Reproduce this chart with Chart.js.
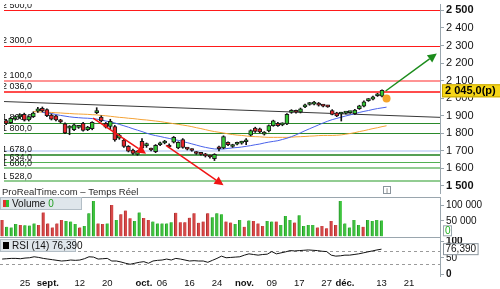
<!DOCTYPE html>
<html><head><meta charset="utf-8">
<script src="https://cdn.jsdelivr.net/npm/chart.js@4.4.0/dist/chart.umd.min.js"></script>
<style>
html,body{margin:0;padding:0;background:#fff;width:500px;height:289px;overflow:hidden}
canvas{position:absolute;left:0;display:block}
</style></head><body>
<canvas id="cp" width="500" height="197" style="top:0"></canvas>
<canvas id="cv" width="500" height="40" style="top:197px"></canvas>
<canvas id="cr" width="500" height="52" style="top:237px"></canvas>
<script>
// ---------- DATA (index 0 = 18 Aug 2017, one step per trading day) ----------
const xTickIndex = [5,10,17,23,31,35,41,47,53,59,65,71,75,83,89];
const xTickText  = ['25','sept.','12','20','oct.','06','16','24','nov.','09','17','27','déc.','13','21'];

const open  = [1872,1860,1882,1893,1908,1876,1895,1926,1942,1935, 1904,1899,1875,1854,1830,1821,1834,1857,1821,1826,
               1918,1892,1857,1839,1839,1772,1762,1726,1704,1680, 1755,1730,1712,1695,1735,1745,1733,1750,1717,1765,
               1715,1708,1692,1684,1680,1672,1655,1722,1717,1748, 1725,1738,1744,1752,1790,1830,1825,1795,1813,1844,
               1857,1848,1854,1919,1926,1920,1951,1964,1966,1972, 1958,1956,1930,1917,1910,1915,1918,1912,1940,1955,
               1986,1994,2014,2012];
const high  = [1880,1890,1900,1912,1915,1900,1922,1948,1950,1940, 1910,1903,1880,1860,1844,1854,1845,1862,1840,1866,
               1946,1900,1862,1880,1845,1795,1768,1730,1710,1702, 1770,1745,1716,1736,1750,1760,1740,1782,1752,1770,
               1718,1712,1696,1690,1686,1676,1684,1728,1786,1752, 1738,1750,1755,1770,1820,1835,1830,1810,1848,1875,
               1862,1860,1912,1935,1932,1944,1966,1976,1982,1976, 1964,1960,1935,1920,1920,1922,1926,1936,1960,1985,
               1998,2012,2028,2048];
const low   = [1850,1855,1875,1885,1870,1870,1890,1919,1922,1895, 1876,1870,1860,1798,1792,1815,1828,1812,1815,1820,
               1912,1865,1830,1825,1755,1766,1720,1694,1680,1675, 1710,1720,1700,1690,1730,1740,1718,1745,1712,1715,
               1705,1698,1680,1676,1665,1658,1645,1700,1712,1730, 1720,1734,1738,1735,1785,1805,1803,1790,1808,1840,
               1840,1843,1850,1914,1915,1916,1946,1960,1962,1955, 1950,1948,1905,1895,1870,1910,1914,1908,1936,1950,
               1982,1990,2010,2008];
const close = [1856,1885,1895,1905,1876,1895,1915,1940,1928,1900, 1881,1877,1865,1803,1836,1849,1838,1817,1835,1863,
               1928,1870,1835,1868,1762,1790,1726,1699,1686,1697, 1715,1735,1705,1732,1745,1755,1722,1777,1748,1720,
               1710,1702,1685,1680,1672,1665,1680,1712,1782,1735, 1732,1744,1750,1756,1815,1811,1808,1805,1844,1871,
               1844,1852,1908,1930,1920,1940,1963,1972,1978,1960, 1955,1951,1908,1899,1914,1918,1922,1932,1957,1980,
               1994,2008,2020,2045];

const volume = [53,31,29,40,37,36,35,42,37,78, 42,29,42,53,50,48,40,29,34,75, 115,42,40,42,102,53,72,84,59,50,
                78,60,53,48,42,42,42,46,77,46, 46,61,75,44,48,75,62,75,72,48, 45,40,53,31,52,50,42,34,50,48,
                48,37,66,53,45,69,34,37,37,29, 34,26,50,37,115,42,29,53,37,31, 53,50,53,52].map(v => v * 1000);
const volumeUp = [0,1,1,1,0,1,1,1,0,0, 0,0,0,0,1,1,1,0,1,1, 1,0,0,1,0,1,0,0,0,1, 1,0,0,1,1,1,1,1,0,0,
                  0,0,0,0,0,0,1,1,1,0, 0,1,1,0,1,0,0,0,1,1, 0,1,1,1,0,1,1,1,1,0, 0,0,0,0,1,1,1,1,1,0, 1,1,1,1];

const rsi = [46,47,48,48,47,49,50,53,51,48, 46,44,42,40,41,43,42,43,47,53, 52,46,47,48,40,40,37,33,30,33,
             36,38,33,40,42,43,46,43,48,46, 43,40,41,40,40,36,42,48,55,50, 51,52,53,58,62,60,58,60,61,69,
             62,65,68,72,71,72,73,74,73,72, 70,69,58,55,56,58,58,60,62,65, 68,71,74,76.39];

const maFastStart = 8;
const maFast = [1919,1916,1913,1907,1902,1898,1894,1891,1889,1887,1886,1884,1881,1876,1870,1865,1859,1851,1843,1835,
                1826,1818,1810,1801,1793,1787,1782,1776,1771,1765,1760,1753,1747,1740,1733,1726,1720,1715,1711,1710,
                1711,1714,1717,1719,1722,1726,1730,1735,1739,1745,1750,1754,1758,1765,1772,1781,1791,1803,1815,1826,
                1837,1848,1859,1869,1878,1885,1892,1899,1905,1912,1919,1925,1930,1936,1941,1945,1949];
const maSlowStart = 6;
const maSlow = [1924,1922,1921,1920,1919,1917,1916,1914,1913,1911,1910,1909,1908,1906,1905,1902,1900,1897,1894,1891,
                1889,1886,1884,1881,1878,1876,1873,1870,1867,1863,1859,1855,1851,1847,1843,1838,1832,1827,1821,1815,
                1810,1806,1802,1797,1793,1790,1788,1785,1782,1781,1780,1778,1777,1777,1777,1777,1777,1778,1780,1781,
                1782,1784,1785,1787,1788,1788,1788,1789,1791,1795,1799,1804,1810,1815,1821,1827,1832,1838,1843];

const trendLine = [[-0.47,1981],[95.8,1891]];
const markerPoint = [84, 1999];
const levelValues = [2500,2300,2100,2036,1860,1800,1700,1678,1634,1600,1528];
const levelLabels = ['2 500,0','2 300,0','2 100,0','2 036,0','1 860,0','1 800,0','','1 678,0','1 634,0','1 600,0','1 528,0'];
const arrowsRed = [[[19.2,1886],[30.9,1684]], [[35.3,1732],[48.0,1504]]];
const arrowGreen = [[83.8,2041],[95.1,2254]];

const priceTicks = [1500,1600,1700,1800,1900,2000,2100,2200,2300,2400,2500];
const volumeTicks = [50000,100000];
const rsiTicks = [0,50,100];
const rsiLevels = [70,30];
const sourceText = 'ProRealTime.com – Temps Réel';

// ---------- STYLE ----------
const FONT = "'Liberation Sans', Arial, sans-serif";
const AXIS_C = '#9aa6ae';
const levelStyle = [
  {c:'#ff1a1a',w:1},{c:'#ff1a1a',w:1},{c:'#ff9494',w:2},{c:'#ff1010',w:1.5},
  {c:'#2a8a2a',w:1},{c:'#2a8a2a',w:1},{c:'#c4d2f6',w:1.5},{c:'#1c7f1c',w:1.5},
  {c:'#52b052',w:1},{c:'#92cc92',w:2},{c:'#92cc92',w:2}];
const XMIN = -0.47, XMAX = 95.8;
const idx = close.map((_, i) => i);
const fmtK = v => String(v).replace(/\B(?=(\d{3})+(?!\d))/g, ' ');

function xAxis(show){
  const ax = {type:'linear', min:XMIN, max:XMAX, display:show, offset:false};
  if (show) Object.assign(ax, {
    grid:{display:false, drawTicks:false, tickLength:0}, border:{display:false},
    afterBuildTicks: s => { s.ticks = xTickIndex.map(v => ({value:v})); },
    afterFit: s => { s.height = 13; s.paddingLeft = 0; s.paddingRight = 0; },
    ticks:{autoSkip:false, maxRotation:0, padding:2, color:'#111',
      callback: v => xTickText[xTickIndex.indexOf(v)],
      font: c => ({family:FONT, size:9.5, weight: (c.tick && /\.$/.test(xTickText[xTickIndex.indexOf(c.tick.value)] || '')) ? 'bold' : 'normal'})}
  });
  return ax;
}
function yAxis(min, max, ticks, size, boldSet, cb){
  return {position:'right', min, max,
    afterBuildTicks: s => { s.ticks = ticks.map(v => ({value:v})); },
    afterFit: s => { s.width = 60; s.paddingTop = 0; s.paddingBottom = 0; },
    grid:{display:true, drawOnChartArea:false, drawTicks:true, tickLength:4, color:AXIS_C},
    border:{display:true, color:AXIS_C},
    ticks:{autoSkip:false, padding:2, color:'#111', callback: cb,
      font: c => ({family:FONT, size, weight: (c.tick && boldSet.includes(c.tick.value)) ? 'bold' : 'normal'})}
  };
}
const baseOpts = {responsive:false, animation:false, devicePixelRatio:1, events:[],
  layout:{padding:0}, plugins:{legend:{display:false}, tooltip:{enabled:false}}};

function arrow(ctx, x1, y1, x2, y2, color, w, head){
  const a = Math.atan2(y2 - y1, x2 - x1);
  const bx = x2 - head * Math.cos(a), by = y2 - head * Math.sin(a);
  ctx.strokeStyle = color; ctx.fillStyle = color; ctx.lineWidth = w;
  ctx.beginPath(); ctx.moveTo(x1, y1); ctx.lineTo(bx, by); ctx.stroke();
  const hw = head * 0.5;
  ctx.beginPath(); ctx.moveTo(x2, y2);
  ctx.lineTo(bx + hw * Math.sin(a), by - hw * Math.cos(a));
  ctx.lineTo(bx - hw * Math.sin(a), by + hw * Math.cos(a));
  ctx.closePath(); ctx.fill();
}

// ---------- PRICE PANEL ----------
const pricePlugin = {
  id:'pricePlugin',
  beforeDatasetsDraw(chart){
    const {ctx, chartArea:a, scales:{y}} = chart;
    ctx.save();
    ctx.beginPath(); ctx.rect(a.left, a.top, a.right - a.left, a.bottom - a.top); ctx.clip();
    ctx.fillStyle = '#a9b4bb'; ctx.fillRect(0, 0, 275, 1.5);
    levelValues.forEach((v, k) => {
      const st = levelStyle[k];
      let py = Math.round(y.getPixelForValue(v)); if (st.w % 2 === 1) py += 0.5;
      ctx.strokeStyle = st.c; ctx.lineWidth = st.w;
      ctx.beginPath(); ctx.moveTo(a.left, py); ctx.lineTo(a.right, py); ctx.stroke();
    });
    ctx.font = '9px ' + FONT; ctx.fillStyle = '#111'; ctx.textBaseline = 'alphabetic';
    levelValues.forEach((v, k) => { if (levelLabels[k]) ctx.fillText(levelLabels[k], 2, y.getPixelForValue(v) - 2.5); });
    ctx.restore();
  },
  afterDatasetsDraw(chart){
    const {ctx, chartArea:a, scales:{x, y}} = chart;
    ctx.save();
    ctx.beginPath(); ctx.rect(a.left, a.top, a.right - a.left, a.bottom - a.top); ctx.clip();
    arrowsRed.forEach(([p, q]) => arrow(ctx, x.getPixelForValue(p[0]), y.getPixelForValue(p[1]),
      x.getPixelForValue(q[0]), y.getPixelForValue(q[1]), '#f01414', 1.5, 9));
    arrow(ctx, x.getPixelForValue(arrowGreen[0][0]), y.getPixelForValue(arrowGreen[0][1]),
      x.getPixelForValue(arrowGreen[1][0]), y.getPixelForValue(arrowGreen[1][1]), '#1c8c1c', 1.5, 9);
    ctx.restore();
    ctx.save();
    ctx.font = '9.5px ' + FONT; ctx.fillStyle = '#2a2a2a'; ctx.textBaseline = 'alphabetic'; ctx.textAlign = 'left';
    ctx.fillText(sourceText, 2, 194.5);
    ctx.strokeStyle = '#8a949c'; ctx.lineWidth = 1; ctx.fillStyle = '#fff';
    ctx.fillRect(383.5, 186.5, 7, 7); ctx.strokeRect(383.5, 186.5, 7, 7);
    ctx.fillStyle = '#555'; ctx.font = '7px ' + FONT; ctx.textAlign = 'center'; ctx.fillText('i', 387, 193);
    ctx.restore();
  },
  afterDraw(chart){
    const {ctx, scales:{y}} = chart;
    const last = close[close.length - 1];
    const py = y.getPixelForValue(last);
    ctx.save();
    ctx.fillStyle = '#f6d619'; ctx.fillRect(442, py - 6, 58, 13);
    ctx.strokeStyle = '#c8a800'; ctx.lineWidth = 1; ctx.strokeRect(442.5, py - 5.5, 58, 12);
    ctx.fillStyle = '#000'; ctx.font = 'bold 11px ' + FONT; ctx.textBaseline = 'middle';
    ctx.fillText(fmtK(last) + ',0(p)', 445, py + 1);
    ctx.restore();
  }
};
new Chart(document.getElementById('cp'), {
  type:'bar',
  data:{datasets:[
    {type:'line', data:[{x:markerPoint[0], y:markerPoint[1]}], showLine:false, pointRadius:4,
     pointBackgroundColor:'#f5a42a', pointBorderWidth:0, order:-1},
    {type:'bar', data: idx.map(i => ({x:i, y:[open[i], close[i]]})),
     backgroundColor: idx.map(i => close[i] >= open[i] ? '#33c833' : '#e8242a'),
     borderColor:'#1b1b1b', borderWidth:1, borderSkipped:false, barThickness:4, maxBarThickness:4,
     grouped:false, minBarLength:2, order:0},
    {type:'bar', data: idx.map(i => ({x:i, y:[low[i], high[i]]})), backgroundColor:'#111',
     barThickness:1, maxBarThickness:1, grouped:false, order:1},
    {type:'line', data: maFast.map((v, k) => ({x:maFastStart + k, y:v})), borderColor:'#4a62ea', borderWidth:1,
     pointRadius:0, tension:0, order:2},
    {type:'line', data: maSlow.map((v, k) => ({x:maSlowStart + k, y:v})), borderColor:'#f5a336', borderWidth:1,
     pointRadius:0, tension:0, order:3},
    {type:'line', data: trendLine.map(p => ({x:p[0], y:p[1]})), borderColor:'#383838', borderWidth:1,
     pointRadius:0, order:4}
  ]},
  options: Object.assign({}, baseOpts, {
    scales:{ x: xAxis(false),
      y: yAxis(1460.1, 2536.6, priceTicks, 11, [2500,1500], v => fmtK(v)) }
  }),
  plugins:[pricePlugin]
});

// ---------- VOLUME PANEL ----------
function legendBox(ctx, top, w, parts, iconColors){
  ctx.fillStyle = '#dfe6eb'; ctx.fillRect(0, top, w, 13);
  ctx.strokeStyle = '#b3bec6'; ctx.lineWidth = 1; ctx.strokeRect(0.5, top + 0.5, w - 1, 12);
  if (iconColors.length === 2) {
    ctx.fillStyle = iconColors[0]; ctx.fillRect(3, top + 3, 3, 7);
    ctx.fillStyle = iconColors[1]; ctx.fillRect(6, top + 3, 3, 7);
  } else { ctx.fillStyle = iconColors[0]; ctx.fillRect(3, top + 3, 6, 7); }
  ctx.font = '10px ' + FONT; ctx.textBaseline = 'middle';
  let xx = 12;
  parts.forEach(([t, c]) => { ctx.fillStyle = c; ctx.fillText(t, xx, top + 7); xx += ctx.measureText(t).width + 3; });
}
const volPlugin = {
  id:'volPlugin',
  afterDraw(chart){
    const {ctx, scales:{y}} = chart;
    ctx.save();
    ctx.strokeStyle = AXIS_C; ctx.lineWidth = 1;
    ctx.beginPath(); ctx.moveTo(0, 0.5); ctx.lineTo(440, 0.5); ctx.stroke();
    legendBox(ctx, 0, 82, [['Volume', '#111'], ['0', '#22a022']], ['#e03030', '#30c030']);
    const py = y.getPixelForValue(0);
    ctx.fillStyle = '#fff'; ctx.fillRect(443.5, py - 10.5, 8, 10);
    ctx.strokeStyle = '#9aa6ae'; ctx.strokeRect(443.5, py - 10.5, 8, 10);
    ctx.fillStyle = '#22b022'; ctx.font = '10px ' + FONT; ctx.textBaseline = 'middle';
    ctx.fillText('0', 445, py - 5);
    ctx.restore();
  }
};
new Chart(document.getElementById('cv'), {
  type:'bar',
  data:{datasets:[{data: idx.map(i => ({x:i, y:volume[i]})),
    backgroundColor: idx.map(i => volumeUp[i] ? '#3fc43f' : '#d84848'),
    borderColor: idx.map(i => volumeUp[i] ? '#27922a' : '#a83232'), borderWidth:{left:1, right:0, top:0, bottom:0},
    barThickness:3, maxBarThickness:3, grouped:false}]},
  options: Object.assign({}, baseOpts, {
    scales:{ x: xAxis(false),
      y: yAxis(-2288, 128430, volumeTicks, 10, [], v => fmtK(v)) }
  }),
  plugins:[volPlugin]
});

// ---------- RSI PANEL ----------
const rsiPlugin = {
  id:'rsiPlugin',
  beforeDatasetsDraw(chart){
    const {ctx, chartArea:a, scales:{y}} = chart;
    ctx.save();
    ctx.strokeStyle = '#9a9a9a'; ctx.lineWidth = 1; ctx.setLineDash([3, 3]);
    rsiLevels.forEach(v => { const py = Math.round(y.getPixelForValue(v)) + 0.5;
      ctx.beginPath(); ctx.moveTo(a.left, py); ctx.lineTo(a.right, py); ctx.stroke(); });
    ctx.restore();
  },
  afterDraw(chart){
    const {ctx, scales:{y}} = chart;
    const last = rsi[rsi.length - 1];
    const txt = last.toFixed(3).replace('.', ',');
    ctx.save();
    ctx.strokeStyle = AXIS_C; ctx.lineWidth = 1;
    ctx.beginPath(); ctx.moveTo(0, 0.5); ctx.lineTo(440, 0.5); ctx.stroke();
    legendBox(ctx, 2, 76, [['RSI (14) ' + txt, '#111']], ['#000']);
    const py = y.getPixelForValue(last);
    ctx.font = '10px ' + FONT;
    const w = ctx.measureText(txt).width + 4;
    ctx.fillStyle = '#fff'; ctx.fillRect(443.5, py - 5.5, w, 11);
    ctx.strokeStyle = '#8a949c'; ctx.strokeRect(443.5, py - 5.5, w, 11);
    ctx.fillStyle = '#111'; ctx.textBaseline = 'middle'; ctx.fillText(txt, 445.5, py + 0.5);
    ctx.restore();
  }
};
new Chart(document.getElementById('cr'), {
  type:'line',
  data:{datasets:[{data: idx.map(i => ({x:i, y:rsi[i]})), borderColor:'#111', borderWidth:1, pointRadius:0, tension:0}]},
  options: Object.assign({}, baseOpts, {
    scales:{ x: xAxis(true),
      y: yAxis(-6.15, 113.85, rsiTicks, 10, [0,100], v => String(v)) }
  }),
  plugins:[rsiPlugin]
});
</script>
</body></html>
